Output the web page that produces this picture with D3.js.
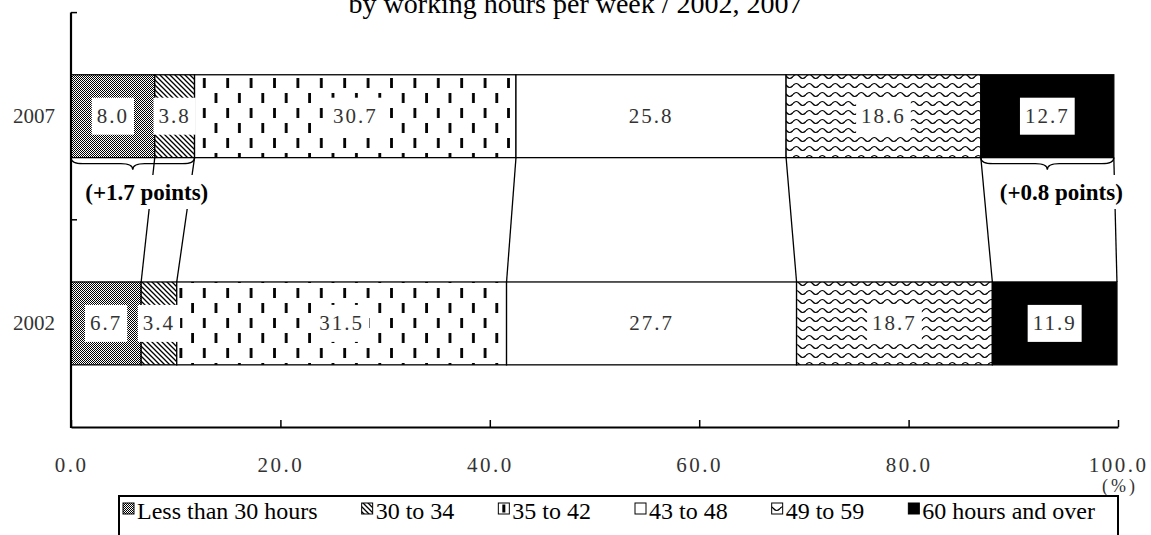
<!DOCTYPE html>
<html>
<head>
<meta charset="utf-8">
<title>Working hours 2002, 2007</title>
<script src="https://cdn.jsdelivr.net/npm/d3@7"></script>
<style>
  body { margin: 0; background: #fff; }
  text { font-family: "Liberation Serif", "Times New Roman", serif; }
</style>
</head>
<body>
<div id="chart"></div>
<script>

  var title = "by working hours per week / 2002, 2007";
  var years = ["2007", "2002"];
  var groups = ["Less than 30 hours", "30 to 34", "35 to 42", "43 to 48", "49 to 59", "60 hours and over"];
  var values2007 = [8.0, 3.8, 30.7, 25.8, 18.6, 12.7];
  var values2002 = [6.7, 3.4, 31.5, 27.7, 18.7, 11.9];
  var xTicks = [0, 20, 40, 60, 80, 100];
  // which segments are bracketed and compared (first..last index)
  var braces = [[0, 1], [5, 5]];

  var w = 1151, h = 535;

  var svg = d3.select('#chart').append('svg')
      .attr('width', w)
      .attr('height', h);

  var x = d3.scaleLinear().domain([0, 100]).range([71, 1118]);
  var y = d3.scaleBand().domain(years).range([12.6, 427])
      .paddingInner(0.6).paddingOuter(0.3);

  var fmt = d3.format('.1f');

  // ---- patterns
  var defs = svg.append('defs');

  var p0 = defs.append('pattern').attr('id', 'pat0')
      .attr('patternUnits', 'userSpaceOnUse').attr('width', 2).attr('height', 2);
  p0.append('rect').attr('width', 2).attr('height', 2).attr('fill', '#fff');
  p0.append('path').attr('d', 'M0,0h1v1h-1zM1,1h1v1h-1z').attr('fill', '#000');

  var p1 = defs.append('pattern').attr('id', 'pat1')
      .attr('patternUnits', 'userSpaceOnUse').attr('width', 5).attr('height', 5);
  p1.append('rect').attr('width', 5).attr('height', 5).attr('fill', '#fff');
  p1.append('path').attr('d', 'M0,0L5,5M-1,4L1,6M4,-1L6,1')
      .attr('stroke', '#000').attr('stroke-width', 1.3);

  var p2 = defs.append('pattern').attr('id', 'pat2')
      .attr('patternUnits', 'userSpaceOnUse').attr('width', 23.4).attr('height', 30);
  p2.append('rect').attr('width', 23.4).attr('height', 30).attr('fill', '#fff');
  p2.append('rect').attr('x', 4).attr('y', 3).attr('width', 2.8).attr('height', 10).attr('fill', '#000');
  p2.append('rect').attr('x', 15.7).attr('y', 18).attr('width', 2.8).attr('height', 10).attr('fill', '#000');

  // small version for the legend key: one dash centred in the box
  var p2s = defs.append('pattern').attr('id', 'pat2s')
      .attr('patternUnits', 'objectBoundingBox').attr('width', 1).attr('height', 1);
  p2s.append('rect').attr('width', 11).attr('height', 11).attr('fill', '#fff');
  p2s.append('rect').attr('x', 4).attr('y', 1.5).attr('width', 3).attr('height', 8).attr('fill', '#000');

  var p4 = defs.append('pattern').attr('id', 'pat4')
      .attr('patternUnits', 'userSpaceOnUse').attr('width', 13).attr('height', 9);
  p4.append('rect').attr('width', 13).attr('height', 9).attr('fill', '#fff');
  p4.append('path').attr('d', 'M0,4.5Q3.25,0.5 6.5,4.5T13,4.5')
      .attr('fill', 'none').attr('stroke', '#000').attr('stroke-width', 1.2);

  var fills = ['url(#pat0)', 'url(#pat1)', 'url(#pat2)', '#fff', 'url(#pat4)', '#000'];
  var keyFills = ['url(#pat0)', 'url(#pat1)', 'url(#pat2s)', '#fff', 'url(#pat4)', '#000'];

  // ---- title (cut at the top edge like the source)
  svg.append('text')
      .attr('x', w / 2).attr('y', 13)
      .attr('text-anchor', 'middle')
      .style('font-size', '28px')
      .text(title);

  // ---- rows with cumulative starts
  var rows = years.map(function(yr, i){
    var vals = i === 0 ? values2007 : values2002;
    var acc = 0;
    return {
      year: yr,
      segs: vals.map(function(v, j){
        var s = {group: groups[j], idx: j, year: yr, v: v, x0: acc, x1: acc + v};
        acc += v;
        return s;
      })
    };
  });

  var rowTop = rows[0], rowBot = rows[1];

  // connector lines between bars
  svg.append('g').selectAll('line')
      .data(rowTop.segs)
      .enter().append('line')
      .attr('x1', function(d){ return x(d.x1); })
      .attr('y1', y(rowTop.year) + y.bandwidth())
      .attr('x2', function(d, i){ return x(rowBot.segs[i].x1); })
      .attr('y2', y(rowBot.year))
      .attr('stroke', '#000').attr('stroke-width', 1.3);

  // bars
  var rowG = svg.selectAll('g.row')
      .data(rows)
      .enter().append('g').classed('row', true);

  rowG.selectAll('rect')
      .data(function(d){ return d.segs; })
      .enter().append('rect')
      .attr('x', function(d){ return x(d.x0); })
      .attr('y', function(d){ return y(d.year); })
      .attr('width', function(d){ return x(d.x1) - x(d.x0); })
      .attr('height', y.bandwidth())
      .attr('fill', function(d){ return fills[d.idx]; })
      .attr('stroke', '#000').attr('stroke-width', 1.3);

  // value labels with white boxes
  rowG.each(function(row){
    var g = d3.select(this);
    row.segs.forEach(function(s){
      var cx = x((s.x0 + s.x1) / 2), cy = y(row.year) + y.bandwidth() / 2;
      var box = g.append('rect').attr('fill', '#fff');
      var t = g.append('text')
          .attr('x', cx).attr('y', cy)
          .attr('text-anchor', 'middle')
          .attr('dominant-baseline', 'central')
          .style('font-size', '21px')
          .style('letter-spacing', '2px')
          .style('fill', '#333')
          .text(fmt(s.v));
      var tw = t.node().getComputedTextLength();
      box.attr('x', cx - tw / 2 - 5).attr('y', cy - 18.5)
          .attr('width', tw + 10).attr('height', 37);
    });
  });

  // braces + change annotations
  function bracePath(x1, x2, yy, q){
    var m = (x1 + x2) / 2, r = Math.min(q, (x2 - x1) / 4);
    return 'M' + x1 + ',' + yy +
      'Q' + x1 + ',' + (yy + q / 2) + ' ' + (x1 + r) + ',' + (yy + q / 2) +
      'L' + (m - r) + ',' + (yy + q / 2) +
      'Q' + m + ',' + (yy + q / 2) + ' ' + m + ',' + (yy + q) +
      'Q' + m + ',' + (yy + q / 2) + ' ' + (m + r) + ',' + (yy + q / 2) +
      'L' + (x2 - r) + ',' + (yy + q / 2) +
      'Q' + x2 + ',' + (yy + q / 2) + ' ' + x2 + ',' + yy;
  }

  var braceY = y(rowTop.year) + y.bandwidth();
  braces.forEach(function(b){
    var a = rowTop.segs[b[0]].x0, z = rowTop.segs[b[1]].x1;
    var diff = d3.sum(values2007.slice(b[0], b[1] + 1)) - d3.sum(values2002.slice(b[0], b[1] + 1));
    svg.append('path')
        .attr('d', bracePath(x(a), x(z), braceY, 12))
        .attr('fill', 'none').attr('stroke', '#000').attr('stroke-width', 1.3);
    var cx = (x(a) + x(z)) / 2 + 14, cy = 192;
    var box = svg.append('rect').attr('fill', '#fff');
    var t = svg.append('text')
        .attr('x', cx).attr('y', cy)
        .attr('text-anchor', 'middle')
        .attr('dominant-baseline', 'central')
        .style('font-size', '23px').style('font-weight', 'bold')
        .text('(' + (diff >= 0 ? '+' : '') + fmt(diff) + ' points)');
    var tw = t.node().getComputedTextLength();
    box.attr('x', cx - tw / 2 - 3).attr('y', cy - 17)
        .attr('width', tw + 6).attr('height', 34);
  });

  // ---- axes
  var y0 = y.range()[0], y1 = y.range()[1];

  var xAxis = svg.append('g')
      .attr('transform', 'translate(0,' + y1 + ')')
      .call(d3.axisBottom(x).tickValues(xTicks).tickFormat(fmt)
        .tickSizeInner(-7).tickSizeOuter(0).tickPadding(30));
  xAxis.select('.domain').attr('stroke-width', 2.2);
  xAxis.selectAll('.tick line').attr('stroke-width', 1.5);
  xAxis.selectAll('.tick text')
      .style('font-family', '"Liberation Serif", serif')
      .style('font-size', '21px')
      .style('letter-spacing', '2.5px')
      .style('fill', '#333');

  svg.append('line')
      .attr('x1', x(0)).attr('x2', x(0))
      .attr('y1', y0).attr('y2', y1 + 1)
      .attr('stroke', '#000').attr('stroke-width', 2.2);
  svg.selectAll('line.ytick')
      .data([y0, (y0 + y1) / 2])
      .enter().append('line').classed('ytick', true)
      .attr('x1', x(0)).attr('x2', x(0) + 6)
      .attr('y1', function(d){ return d; })
      .attr('y2', function(d){ return d; })
      .attr('stroke', '#000').attr('stroke-width', 1.5);

  svg.selectAll('text.cat')
      .data(years)
      .enter().append('text').classed('cat', true)
      .attr('x', 55)
      .attr('y', function(d){ return y(d) + y.bandwidth() / 2; })
      .attr('text-anchor', 'end')
      .attr('dominant-baseline', 'central')
      .style('font-size', '21px')
      .style('fill', '#333')
      .text(function(d){ return d; });

  svg.append('text')
      .attr('x', x(100) + 2).attr('y', 492)
      .attr('text-anchor', 'middle')
      .style('font-size', '18px')
      .style('letter-spacing', '3px')
      .style('fill', '#333')
      .text('(%)');

  // ---- legend
  var leg = svg.append('g');
  leg.append('rect')
      .attr('x', 119).attr('y', 496)
      .attr('width', x(100) - 119).attr('height', 80)
      .attr('fill', '#fff').attr('stroke', '#000').attr('stroke-width', 2);

  var lx = 123;
  groups.forEach(function(gname, i){
    leg.append('rect')
        .attr('x', lx).attr('y', 503)
        .attr('width', 11).attr('height', 11)
        .attr('fill', keyFills[i]).attr('stroke', '#000').attr('stroke-width', 1);
    var t = leg.append('text')
        .attr('x', lx + 14).attr('y', 519)
        .style('font-size', '24px')
        .text(gname);
    lx += 14 + t.node().getComputedTextLength() + 44;
  });

</script>
</body>
</html>
